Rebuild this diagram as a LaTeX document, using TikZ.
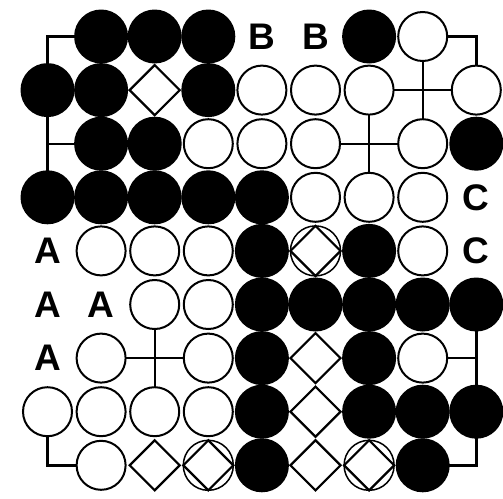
\documentclass[tikz,border=0pt]{standalone}
\usepackage{fontspec}
\setmainfont{Liberation Sans}
\usetikzlibrary{shapes.geometric}

\begin{document}
\begin{tikzpicture}[
    x=1pt, y=-1pt,
    line width=2.4pt,
    bstone/.style={circle, fill=black, inner sep=0pt, minimum size=54pt},
    wstone/.style={circle, draw, fill=white, inner sep=0pt, minimum size=49pt, line width=2pt},
    gap/.style={diamond, draw, inner sep=0pt, minimum size=51pt, line width=2.2pt},
    ring/.style={circle, draw, inner sep=0pt, minimum size=50pt, line width=1.5pt},
    lbl/.style={font=\fontsize{37}{37}\selectfont\bfseries, inner sep=0pt}
  ]
  \useasboundingbox (0,0) rectangle (503,498);
  % points of the board
  \foreach \c in {1,...,9}
    \foreach \r in {1,...,9}
      \coordinate (p-\c-\r) at ({47.5+53.6*(\c-1)}, {36.5+53.6*(\r-1)});
  % grid lines at the empty points
  \draw (p-2-1) -- (p-1-1) -- (p-1-2);
  \draw (p-1-2) -- (p-1-4); \draw (p-1-3) -- (p-2-3);
  \draw (p-8-1) -- (p-9-1) -- (p-9-2);
  \draw (p-7-2) -- (p-9-2); \draw (p-8-1) -- (p-8-3);
  \draw (p-6-3) -- (p-8-3); \draw (p-7-2) -- (p-7-4);
  \draw (p-2-7) -- (p-4-7); \draw (p-3-6) -- (p-3-8);
  \draw (p-9-6) -- (p-9-8); \draw (p-8-7) -- (p-9-7);
  \draw (p-1-8) -- (p-1-9) -- (p-2-9);
  \draw (p-9-8) -- (p-9-9) -- (p-8-9);
  % diamonds and rings
  \foreach \c/\r in {3/2, 6/7, 6/8, 3/9, 6/9, 6/5, 4/9, 7/9}
    \node[gap] (d-\c-\r) at (p-\c-\r) {};
  \foreach \c/\r in {6/5, 4/9, 7/9}
    \node[ring] (o-\c-\r) at (p-\c-\r) {};
  % black stones
  \foreach \c/\r in {2/1, 3/1, 4/1, 7/1, 1/2, 2/2, 4/2, 2/3, 3/3, 9/3,
      1/4, 2/4, 3/4, 4/4, 5/4, 5/5, 7/5, 5/6, 6/6, 7/6, 8/6, 9/6,
      5/7, 7/7, 5/8, 7/8, 8/8, 9/8, 5/9, 8/9}
    \node[bstone] (b-\c-\r) at (p-\c-\r) {};
  % white stones
  \foreach \c/\r in {8/1, 5/2, 6/2, 7/2, 9/2, 4/3, 5/3, 6/3, 8/3,
      6/4, 7/4, 8/4, 2/5, 3/5, 4/5, 8/5, 3/6, 4/6, 2/7, 4/7, 8/7,
      1/8, 2/8, 3/8, 4/8, 2/9}
    \node[wstone] (w-\c-\r) at (p-\c-\r) {};
  % letters
  \foreach \c/\r/\t in {5/1/B, 6/1/B, 9/4/C, 9/5/C, 1/5/A, 1/6/A, 2/6/A, 1/7/A}
    \node[lbl] (l-\c-\r) at (p-\c-\r) {\t};
\end{tikzpicture}
\end{document}
